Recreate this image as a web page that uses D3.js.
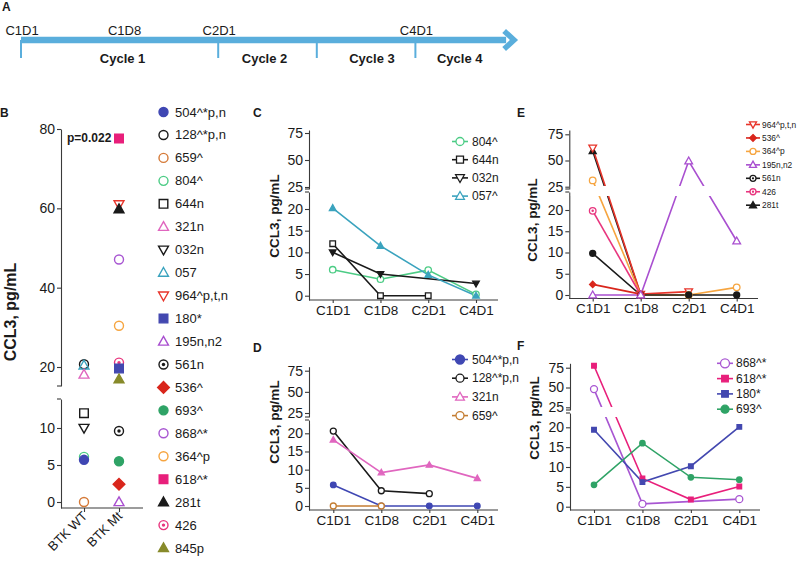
<!DOCTYPE html>
<html><head><meta charset="utf-8">
<script src="https://cdn.jsdelivr.net/npm/d3@7/dist/d3.min.js"></script>
<style>
body{margin:0;background:#fff}
svg text{font-family:"Liberation Sans",Arial,Helvetica,sans-serif;fill:#1a1a1a}
</style>
</head><body>
<svg id="chart" width="798" height="561"></svg>
<script>
// ---------------- DATA ----------------
const timepoints = ["C1D1","C1D8","C2D1","C4D1"];

// Panel A timeline (units: cycle-boundary layout units)
const timelineTicks = [0, 2, 3, 4];
const timelineLabels = ["C1D1","C1D8","C2D1","C4D1"];
const timelineLabelPos = [0, 1.04, 2, 4];
const cycleLabels = ["Cycle 1","Cycle 2","Cycle 3","Cycle 4"];
const cyclePos = [1.03, 2.47, 3.56, 4.45];

// Panel B
const groupsB = ["BTK WT","BTK Mt"];
const patientsB = ["504^*p,n","128^*p,n","659^","804^","644n","321n","032n","057","964^p,t,n","180*",
                   "195n,n2","561n","536^","693^","868^*","364^p","618^*","281t","426","845p"];
const groupOfB = ["BTK WT","BTK WT","BTK WT","BTK WT","BTK WT","BTK WT","BTK WT","BTK WT","BTK Mt","BTK Mt",
                  "BTK Mt","BTK Mt","BTK Mt","BTK Mt","BTK Mt","BTK Mt","BTK Mt","BTK Mt","BTK Mt","BTK Mt"];
const valuesB = [5.7, 20.7, 0, 6.1, 12, 18.1, 10, 20.4, 61, 19.6,
                 0, 9.6, 2.4, 5.5, 47.1, 30.4, 77.6, 59.8, 21.1, 16.9];
const upperTicksB = [20, 40, 60, 80];
const lowerTicksB = [0, 5, 10];
const pText = "p=0.022";

// Panels C-F
const upperTicks = [25, 50, 75];
const lowerTicks = [0, 5, 10, 15, 20];

const seriesC = ["804^","644n","032n","057^"];
const valuesC = [[6, 3.8, 5.9, 0.3],[12, 0, 0, null],[10, 5, null, 2.8],[20.2, 11.5, 4.8, 0]];

const seriesD = ["504^*p,n","128^*p,n","321n","659^"];
const valuesD = [[5.8, 0, 0, 0],[20.6, 4.2, 3.4, null],[18.2, 9.2, 11.3, 7.6],[0, 0, null, null]];

const seriesE = ["964^p,t,n","536^","364^p","195n,n2","561n","426","281t"];
const valuesE = [[62, 0.2, 0.8, null],[2.5, 0.2, null, null],[31, 0, 0, 1.8],[0, 0, 49.5, 12.7],
                 [9.8, 0, 0, 0],[19.8, 0, null, null],[59, 0, null, null]];

const seriesF = ["868^*","618^*","180*","693^"];
const valuesF = [[48, 0.7, null, 1.9],[77.5, 7.1, 1.8, 5.1],[19.4, 6.2, 10.2, 20.1],[5.5, 16, 7.4, 6.8]];

// ---------------- STYLES ----------------
const C = {
  blue:"#3f47b3", black:"#1a1a1a", orange:"#d57a38", lgreen:"#4ccc85", pink:"#e066bf", cyan:"#3aa3be",
  red:"#e8352b", blueSq:"#4348b0", purple:"#a94fd0", redD:"#d9261c", green:"#2fa366", purpleC:"#a856d2",
  orangeL:"#f6a540", magenta:"#e81f7b", pinkDot:"#e8357e", olive:"#878a2a", brown:"#c47d32"
};
const styleB = [
  {s:"circle",c:C.blue,f:true},{s:"circle",c:C.black,f:false},{s:"circle",c:C.orange,f:false},
  {s:"circle",c:C.lgreen,f:false},{s:"square",c:C.black,f:false},{s:"triangle",c:C.pink,f:false},
  {s:"tridown",c:C.black,f:false},{s:"triangle",c:C.cyan,f:false},{s:"tridown",c:C.red,f:false},
  {s:"square",c:C.blueSq,f:true},{s:"triangle",c:C.purple,f:false},{s:"dotcircle",c:C.black,f:false},
  {s:"diamond",c:C.redD,f:true},{s:"circle",c:C.green,f:true},{s:"circle",c:C.purpleC,f:false},
  {s:"circle",c:C.orangeL,f:false},{s:"square",c:C.magenta,f:true},{s:"triangle",c:C.black,f:true},
  {s:"dotcircle",c:C.pinkDot,f:false},{s:"triangle",c:C.olive,f:true}
];
const drawOrderB = [1,7,5,3,0,2,4,6,8,17,16,14,15,18,9,19,11,13,12,10];

const styleC = [
  {c:C.lgreen, m:{s:"circle",f:false,r:3.2}, l:{s:"circle",f:false,r:4}},
  {c:C.black,  m:{s:"square",f:false,r:2.8}, l:{s:"square",f:false,r:3.5}},
  {c:C.black,  m:{s:"tridown",f:true,r:3}, l:{s:"tridown",f:false,r:4}},
  {c:C.cyan,   m:{s:"triangle",f:true,r:3}, l:{s:"triangle",f:false,r:4}}
];
const styleD = [
  {c:C.blue,  m:{s:"circle",f:true,r:2.8}, l:{s:"circle",f:true,r:4.5}},
  {c:C.black, m:{s:"circle",f:false,r:3}, l:{s:"circle",f:false,r:4}},
  {c:C.pink,  m:{s:"triangle",f:true,r:2.8}, l:{s:"triangle",f:false,r:4}},
  {c:C.brown, m:{s:"circle",f:false,r:3}, l:{s:"circle",f:false,r:4}}
];
const styleE = [
  {c:C.red,     m:{s:"tridown",f:false,r:3.5}, l:{s:"tridown",f:false,r:3.2}},
  {c:C.redD,    m:{s:"diamond",f:true,r:2.4}, l:{s:"diamond",f:true,r:2.6}},
  {c:C.orangeL, m:{s:"circle",f:false,r:3.3}, l:{s:"circle",f:false,r:3}},
  {c:C.purple,  m:{s:"triangle",f:false,r:3.5}, l:{s:"triangle",f:false,r:3.2}},
  {c:C.black,   m:{s:"circle",f:true,r:3}, l:{s:"dotcircle",f:false,r:3}},
  {c:C.pinkDot, m:{s:"dotcircle",f:false,r:3.3}, l:{s:"dotcircle",f:false,r:3}},
  {c:C.black,   m:{s:"triangle",f:true,r:3.2}, l:{s:"triangle",f:true,r:3.2}}
];
const drawOrderE = [6,0,2,5,4,1,3];
const styleF = [
  {c:C.purpleC, m:{s:"circle",f:false,r:3.5}, l:{s:"circle",f:false,r:4.5}},
  {c:C.magenta, m:{s:"square",f:true,r:2.3}, l:{s:"square",f:true,r:3.3}},
  {c:C.blueSq,  m:{s:"square",f:true,r:2.3}, l:{s:"square",f:true,r:3.3}},
  {c:C.green,   m:{s:"circle",f:true,r:2.7}, l:{s:"circle",f:true,r:4}}
];

// ---------------- HELPERS ----------------
const svg = d3.select("#chart");
const AX = "#3a3a3a";

function marker(g, shape, x, y, r, color, filled, openFill, sw) {
  sw = sw || 1.3;
  const fill = filled ? color : openFill;
  let el;
  if (shape === "circle") {
    el = g.append("circle").attr("cx", x).attr("cy", y).attr("r", r);
  } else if (shape === "dotcircle") {
    g.append("circle").attr("cx", x).attr("cy", y).attr("r", r)
      .attr("fill", openFill).attr("stroke", color).attr("stroke-width", sw);
    g.append("circle").attr("cx", x).attr("cy", y).attr("r", Math.max(1, r * 0.38)).attr("fill", color);
    return;
  } else {
    let pts;
    if (shape === "square") pts = [[-r,-r],[r,-r],[r,r],[-r,r]];
    else if (shape === "triangle") pts = [[0,-r*1.15],[r*1.1,r*0.8],[-r*1.1,r*0.8]];
    else if (shape === "tridown") pts = [[0,r*1.15],[r*1.1,-r*0.8],[-r*1.1,-r*0.8]];
    else if (shape === "diamond") pts = [[0,-r*1.3],[r*1.3,0],[0,r*1.3],[-r*1.3,0]];
    el = g.append("path").attr("d", "M" + pts.map(p => (x + p[0]) + "," + (y + p[1])).join("L") + "Z");
  }
  el.attr("fill", fill).attr("stroke", color).attr("stroke-width", sw);
}

function segScale(v1, y1, v2, y2, yA, yB) {
  const s = d3.scaleLinear().domain([v1, v2]).range([y1, y2]);
  return d3.scaleLinear().domain([s.invert(yA), s.invert(yB)]).range([yA, yB]);
}

function styleAxis(g, fs) {
  g.attr("font-family", null).attr("font-size", null);
  g.selectAll("path.domain").attr("stroke", AX).attr("stroke-width", 1.1);
  g.selectAll(".tick line").attr("stroke", AX).attr("stroke-width", 1.1);
  g.selectAll(".tick text").attr("font-size", fs + "px").attr("fill", "#1a1a1a");
}

function brokenYAxis(axisX, upper, lower, upTicks, lowTicks, fs) {
  const gu = svg.append("g").attr("transform", `translate(${axisX},0)`)
    .call(d3.axisLeft(upper).tickValues(upTicks).tickSize(4).tickSizeOuter(0).tickPadding(2));
  styleAxis(gu, fs);
  const gl = svg.append("g").attr("transform", `translate(${axisX},0)`)
    .call(d3.axisLeft(lower).tickValues(lowTicks).tickSize(4).tickSizeOuter(0).tickPadding(2));
  styleAxis(gl, fs);
  // break stubs
  [upper.range()[0], lower.range()[1]].forEach(yy => {
    svg.append("line").attr("x1", axisX - 4).attr("x2", axisX).attr("y1", yy).attr("y2", yy)
      .attr("stroke", AX).attr("stroke-width", 1.1);
  });
}

function panelLetter(t, x, y) {
  svg.append("text").attr("x", x).attr("y", y).attr("font-size", "12px").attr("font-weight", "bold").text(t);
}
function yTitle(x, y, fs) {
  svg.append("text").attr("transform", `translate(${x},${y}) rotate(-90)`).attr("text-anchor", "middle")
    .attr("dominant-baseline", "middle").attr("font-size", fs + "px").attr("font-weight", "bold")
    .text("CCL3, pg/mL");
}

// ---------------- PANEL A ----------------
(function () {
  panelLetter("A", 2, 11);
  const t = d3.scaleLinear().domain([0, 5]).range([21, 514]);
  const col = "#5aaedc";
  const lineY = 40;
  svg.append("line").attr("x1", t(0)).attr("x2", t(4.92)).attr("y1", lineY).attr("y2", lineY)
    .attr("stroke", col).attr("stroke-width", 6.5);
  svg.append("polyline").attr("points", `${t(4.9)},${lineY - 9} ${t(5.0)},${lineY} ${t(4.9)},${lineY + 9}`)
    .attr("fill", "none").attr("stroke", col).attr("stroke-width", 5.5).attr("stroke-linejoin", "miter");
  timelineTicks.forEach(u => {
    svg.append("line").attr("x1", t(u)).attr("x2", t(u)).attr("y1", lineY).attr("y2", 58)
      .attr("stroke", col).attr("stroke-width", 2);
  });
  timelineLabels.forEach((l, i) => {
    svg.append("text").attr("x", t(timelineLabelPos[i]) + 1).attr("y", 34.5).attr("text-anchor", "middle")
      .attr("font-size", "13px").text(l);
  });
  cycleLabels.forEach((l, i) => {
    svg.append("text").attr("x", t(cyclePos[i])).attr("y", 62.5).attr("text-anchor", "middle")
      .attr("font-size", "13px").attr("font-weight", "bold").text(l);
  });
})();

// ---------------- PANEL B ----------------
(function () {
  panelLetter("B", 0, 117);
  const axisX = 61, xAxisY = 508;
  const upper = segScale(20, 367, 80, 129, 386, 129);
  const lower = segScale(0, 502, 10, 428, xAxisY, 399);
  const lowMax = lower.domain()[1];
  const y = v => v <= lowMax ? lower(v) : upper(v);
  const x = d3.scalePoint().domain(groupsB).range([84, 119]);

  brokenYAxis(axisX, upper, lower, upperTicksB, lowerTicksB, 14);
  const gx = svg.append("g").attr("transform", `translate(0,${xAxisY})`)
    .call(d3.axisBottom(x).tickSize(4).tickSizeOuter(0).tickFormat(""));
  styleAxis(gx, 13);
  gx.select("path.domain").attr("d", `M${axisX},0H143`);
  groupsB.forEach(gname => {
    svg.append("text").attr("transform", `translate(${x(gname) + 4},${xAxisY + 9}) rotate(-45)`)
      .attr("text-anchor", "end").attr("font-size", "13px").text(gname);
  });
  yTitle(12, 312, 16);
  svg.append("text").attr("x", 67).attr("y", 142).attr("font-size", "12px").attr("font-weight", "bold").text(pText);

  const gp = svg.append("g");
  drawOrderB.forEach(i => {
    const st = styleB[i];
    marker(gp, st.s, x(groupOfB[i]), y(valuesB[i]), st.s === "square" ? 4.3 : 4.5, st.c, st.f, "none", 1.4);
  });
  // legend
  const gl = svg.append("g");
  patientsB.forEach((p, i) => {
    const yy = 112 + i * 22.95;
    const st = styleB[i];
    marker(gl, st.s, 163.5, yy, st.s === "square" ? 4.3 : 4.5, st.c, st.f, "none", 1.4);
    gl.append("text").attr("x", 175).attr("y", yy).attr("dominant-baseline", "central")
      .attr("font-size", "13px").text(p);
  });
})();

// ---------------- LINE PANELS ----------------
function linePanel(cfg, series, values, styles, order) {
  panelLetter(cfg.letter, cfg.lx, cfg.ly);
  const x = d3.scalePoint().domain(timepoints).range([cfg.cat1, cfg.cat4]);
  const lower = segScale(0, cfg.y0, 20, cfg.y20, cfg.xAxisY, cfg.lowTop);
  const upper = segScale(25, cfg.y25, 75, cfg.y75, cfg.upBot, cfg.upTop);
  const lowMax = lower.domain()[1];
  const y = v => v <= lowMax ? lower(v) : upper(v);

  brokenYAxis(cfg.axisX, upper, lower, upperTicks, lowerTicks, 14);
  const gx = svg.append("g").attr("transform", `translate(0,${cfg.xAxisY})`)
    .call(d3.axisBottom(x).tickSize(3).tickSizeOuter(0).tickPadding(2));
  styleAxis(gx, 13.5);
  gx.select("path.domain").attr("d", `M${cfg.axisX},0H${cfg.xRight}`);
  yTitle(cfg.tx, cfg.ty, 13.5);

  const idx = order || series.map((d, i) => i);
  const line = d3.line().x(d => x(d.t)).y(d => y(d.v));
  const gLines = svg.append("g");
  idx.forEach(i => {
    const pts = values[i].map((v, k) => ({t: timepoints[k], v})).filter(d => d.v != null);
    gLines.append("path").attr("d", line(pts)).attr("fill", "none")
      .attr("stroke", styles[i].c).attr("stroke-width", 1.6);
  });
  // break gap through lines
  svg.append("rect").attr("x", cfg.axisX + 1.5).attr("width", cfg.cat4 + 8 - cfg.axisX)
    .attr("y", cfg.upBot - 3).attr("height", cfg.lowTop - cfg.upBot + 7).attr("fill", "#fff");
  const gm = svg.append("g");
  idx.forEach(i => {
    const st = styles[i];
    values[i].forEach((v, k) => {
      if (v == null) return;
      marker(gm, st.m.s, x(timepoints[k]), y(v), st.m.r, st.c, st.m.f, "#fff", 1.3);
    });
  });
  // legend
  const gl = svg.append("g");
  series.forEach((s, i) => {
    const yy = cfg.legY + i * cfg.legStep;
    const st = styles[i];
    gl.append("line").attr("x1", cfg.legX1).attr("x2", cfg.legX2).attr("y1", yy).attr("y2", yy)
      .attr("stroke", st.c).attr("stroke-width", 1.6);
    marker(gl, st.l.s, (cfg.legX1 + cfg.legX2) / 2, yy, st.l.r, st.c, st.l.f, "#fff", 1.3);
    gl.append("text").attr("x", cfg.legTX).attr("y", yy).attr("dominant-baseline", "central")
      .attr("font-size", cfg.legFs + "px").text(s);
  });
}

linePanel({letter:"C", lx:253, ly:117, axisX:309, xAxisY:300, xRight:498, cat1:332.7, cat4:476,
  y0:295.7, y20:209, y25:187, y75:133, upBot:189, lowTop:192, upTop:130, tx:275, ty:216,
  legX1:452, legX2:468, legTX:472, legY:141.5, legStep:18.2, legFs:12}, seriesC, valuesC, styleC);

linePanel({letter:"D", lx:253, ly:352, axisX:309, xAxisY:510, xRight:498, cat1:333.3, cat4:477.3,
  y0:506, y20:433.3, y25:413, y75:370.7, upBot:417, lowTop:420, upTop:366.7, tx:275, ty:422,
  legX1:452, legX2:468, legTX:472, legY:359.5, legStep:18.7, legFs:12}, seriesD, valuesD, styleD);

linePanel({letter:"E", lx:517, ly:117, axisX:569.3, xAxisY:298.5, xRight:758, cat1:592.7, cat4:736.7,
  y0:295, y20:210, y25:186.7, y75:134.3, upBot:189, lowTop:192, upTop:130, tx:533, ty:220,
  legX1:746, legX2:760, legTX:762, legY:124.5, legStep:13.45, legFs:8.4}, seriesE, valuesE, styleE, drawOrderE);

linePanel({letter:"F", lx:517, ly:350, axisX:570, xAxisY:510, xRight:760, cat1:594, cat4:739.3,
  y0:506.7, y20:427.3, y25:407.3, y75:367.7, upBot:410, lowTop:413, upTop:363.3, tx:535, ty:418,
  legX1:717, legX2:733, legTX:736, legY:363.3, legStep:15.3, legFs:12}, seriesF, valuesF, styleF);
</script>
</body></html>
